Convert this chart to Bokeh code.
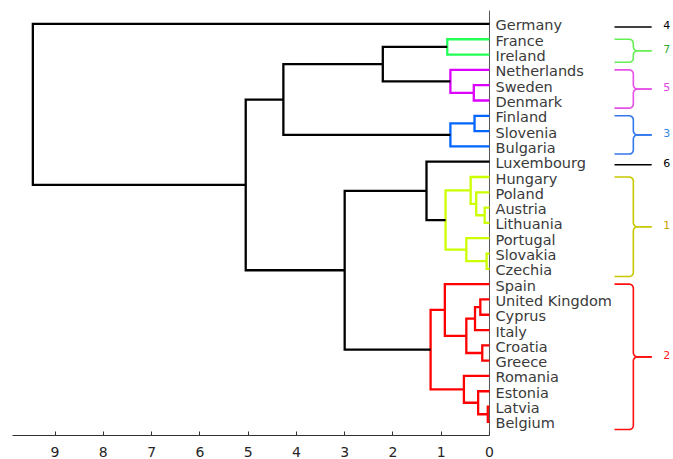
import math
from bokeh.plotting import figure
from bokeh.models import Range1d, FixedTicker
from bokeh.core.properties import value
from bokeh.embed import file_html
from bokeh.resources import INLINE

# ---------------- data ----------------
leaves = ["Germany", "France", "Ireland", "Netherlands", "Sweden", "Denmark",
          "Finland", "Slovenia", "Bulgaria", "Luxembourg", "Hungary", "Poland",
          "Austria", "Lithuania", "Portugal", "Slovakia", "Czechia", "Spain",
          "United Kingdom", "Cyprus", "Italy", "Croatia", "Greece", "Romania",
          "Estonia", "Latvia", "Belgium"]

merge_left = ["Latvia", "Slovakia", "Austria", "Croatia", "United Kingdom", "Estonia",
              "Poland", "m5", "Finland", "Sweden", "Hungary", "Portugal", "m8",
              "Romania", "Netherlands", "m9", "France", "m11", "Spain", "m19",
              "Luxembourg", "m17", "m21", "m22", "m24", "Germany"]
merge_right = ["Belgium", "Czechia", "Lithuania", "Greece", "Cyprus", "m1",
               "m3", "Italy", "Slovenia", "Denmark", "m7", "m2", "m4",
               "m6", "m10", "Bulgaria", "Ireland", "m12", "m13", "m14",
               "m18", "m15", "m20", "m16", "m23", "m25"]
merge_height = [0.035, 0.06, 0.10, 0.15, 0.19, 0.235,
                0.275, 0.30, 0.31, 0.325, 0.39, 0.48, 0.48,
                0.53, 0.81, 0.81, 0.875, 0.91, 0.925, 1.22,
                1.305, 2.21, 3.0, 4.27, 5.05, 9.46]

color_threshold = 1.25
cluster_ids = ["4", "7", "5", "3", "6", "1", "2"]
cluster_sizes = [1, 2, 3, 3, 1, 7, 10]
cluster_line_colors = ["black", "#22ff55", "#dd00ff", "#0066ff", "black", "#ccff00", "#ff0000"]
cluster_brace_colors = ["black", "#66ee55", "#e650e6", "#3377ee", "black", "#c8c800", "#ff1010"]
cluster_text_colors = ["black", "#33aa33", "#dd44dd", "#3388dd", "black", "#c8a000", "#ff2020"]
x_ticks = [0, 1, 2, 3, 4, 5, 6, 7, 8, 9]

# ---------------- tree layout ----------------
leaf_cluster = {}
k = 0
for c, n in enumerate(cluster_sizes):
    for _ in range(n):
        leaf_cluster[leaves[k]] = c
        k += 1

pos = {name: (i, 0.0) for i, name in enumerate(leaves)}
members = {name: {leaf_cluster[name]} for name in leaves}
link_xs, link_ys, link_col = [], [], []
for m, (a, b, h) in enumerate(zip(merge_left, merge_right, merge_height)):
    name = "m%d" % (m + 1)
    ya, ha = pos[a]
    yb, hb = pos[b]
    pos[name] = ((ya + yb) / 2.0, h)
    members[name] = members[a] | members[b]
    if h < color_threshold and len(members[name]) == 1:
        col = cluster_line_colors[next(iter(members[name]))]
    else:
        col = "black"
    link_xs.append([ha, h, h, hb])
    link_ys.append([ya, ya, yb, yb])
    link_col.append(col)

# ---------------- figure ----------------
y_bottom, y_top = 26.89, -1.533
p = figure(width=673, height=459, output_backend="svg", toolbar_location=None,
           x_range=Range1d(10.13, -3.812), y_range=Range1d(y_bottom, y_top),
           y_axis_location=None, min_border_left=0, min_border_right=0,
           min_border_top=0, min_border_bottom=0)
p.grid.visible = False
p.outline_line_color = None
p.background_fill_color = "white"
p.border_fill_color = "white"

ax = p.xaxis[0]
ax.ticker = FixedTicker(ticks=x_ticks)
ax.bounds = (0, 9.89)
ax.major_tick_in = 4
ax.major_tick_out = 0
ax.minor_tick_line_color = None
ax.axis_line_color = "#333333"
ax.major_tick_line_color = "#333333"
ax.major_label_text_color = "#262626"
ax.major_label_text_font = "DejaVu Sans"
ax.major_label_text_font_size = "14px"
ax.major_label_standoff = 11

# right-hand vertical axis line at distance 0
p.segment(x0=[0], y0=[-0.875], x1=[0], y1=[y_bottom], line_color="#555555", line_width=1)

# dendrogram links
p.multi_line(xs=link_xs, ys=link_ys, line_color=link_col, line_width=2.3,
             line_join="miter")

# leaf labels
p.text(x=[0] * len(leaves), y=list(range(len(leaves))), text=leaves,
       x_offset=6, y_offset=1.5, text_baseline="middle", text_align="left",
       text_font=value("DejaVu Sans"), text_font_size="14.5px", text_color="#3a3a3a")

# cluster braces
dL, dS, dT = 2.59, 2.98, 3.36
rx, ry = 0.085, 0.27


def brace_halves(top, bottom):
    mid = (top + bottom) / 2.0
    up = [(dL, top)]
    for j in range(7):
        t = j / 6 * math.pi / 2
        up.append((dS - rx + rx * math.sin(t), top + ry - ry * math.cos(t)))
    for j in range(7):
        t = j / 6 * math.pi / 2
        up.append((dS + rx - rx * math.cos(t), mid - ry + ry * math.sin(t)))
    up.append((dT, mid))
    lo = [(d, 2 * mid - i) for d, i in up]
    return up, lo, mid


br_xs, br_ys, br_col = [], [], []
num_x, num_y, num_t, num_c = [], [], [], []
start = 0
for c, n in enumerate(cluster_sizes):
    first, last = start, start + n - 1
    start += n
    if n == 1:
        yy = first + 0.2
        br_xs.append([-dL, -dT])
        br_ys.append([yy, yy])
        br_col.append(cluster_brace_colors[c])
        mid = yy
    else:
        up, lo, mid = brace_halves(first, last + 0.5)
        for half in (up, lo):
            br_xs.append([-d for d, _ in half])
            br_ys.append([i for _, i in half])
            br_col.append(cluster_brace_colors[c])
    num_x.append(-3.60)
    num_y.append(mid - 0.1)
    num_t.append(cluster_ids[c])
    num_c.append(cluster_text_colors[c])

p.multi_line(xs=br_xs, ys=br_ys, line_color=br_col, line_width=1.6)
p.text(x=num_x, y=num_y, text=num_t, text_color=num_c, text_baseline="middle",
       text_align="left", text_font=value("DejaVu Sans"), text_font_size="11px")

open("out.html", "w").write(file_html(p, INLINE))
